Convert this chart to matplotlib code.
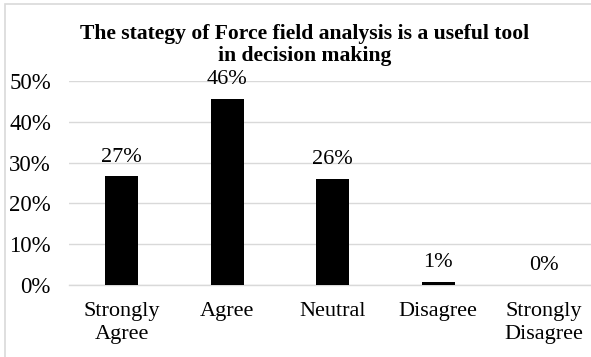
import matplotlib
matplotlib.use("Agg")
import matplotlib.pyplot as plt
from matplotlib.patches import Rectangle

categories = ["Strongly\nAgree", "Agree", "Neutral", "Disagree", "Strongly\nDisagree"]
values = [0.266, 0.456, 0.26, 0.008, 0.0]
yticks = [0, 0.1, 0.2, 0.3, 0.4, 0.5]
ytick_labels = ["0%", "10%", "20%", "30%", "40%", "50%"]
title = "The stategy of Force field analysis is a useful tool\nin decision making"

plt.rcParams["font.family"] = ["Liberation Serif", "DejaVu Serif"]

W, H = 591, 357
fig = plt.figure(figsize=(W / 100, H / 100), dpi=100)

# figure border (light gray)
fig.patches.append(Rectangle((5 / W, -0.05), 1.1, (H - 4) / H + 0.05,
                             transform=fig.transFigure, fill=False,
                             edgecolor="#d9d9d9", linewidth=1.2))

ax = fig.add_axes([69 / W, (H - 285) / H, (W - 69) / W, 204 / H])
x = range(len(categories))
ax.bar(x, values, width=0.31, color="black", zorder=3)
ax.set_xlim(-0.5, -0.5 + (W - 69) / 105.5)
ax.set_ylim(0, 0.5)
ax.set_yticks(yticks)
ax.set_yticklabels(ytick_labels, fontsize=16.5)
ax.set_xticks(list(x))
ax.set_xticklabels(categories, fontsize=16, linespacing=1.3)
ax.tick_params(axis="both", length=0)
ax.tick_params(axis="y", pad=13)
ax.tick_params(axis="x", pad=12)
ax.grid(axis="y", color="#d9d9d9", linewidth=1.0, zorder=0)
for s in ["top", "right", "left"]:
    ax.spines[s].set_visible(False)
ax.spines["bottom"].set_color("#d9d9d9")
ax.spines["bottom"].set_linewidth(1.0)

for xi, v in zip(x, values):
    ax.annotate(f"{round(v * 100):d}%", (xi, v), xytext=(0, 7),
                textcoords="offset points", ha="center", va="bottom",
                fontsize=16, zorder=4)

fig.text(305 / W, (H - 24) / H, title, ha="center", va="top",
         fontsize=15.6, fontweight="bold", linespacing=1.15)

fig.savefig("out.png", dpi=100)
